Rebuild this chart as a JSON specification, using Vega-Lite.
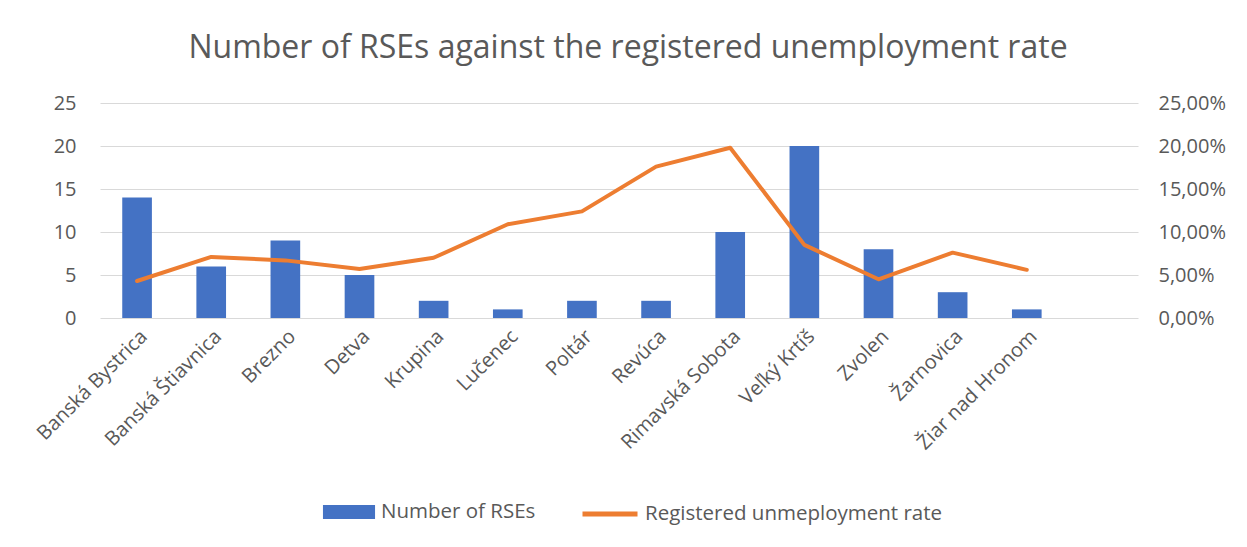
{
  "$schema": "https://vega.github.io/schema/vega-lite/v6.json",
  "width": 1038,
  "height": 215,
  "autosize": {"type": "none"},
  "padding": {"left": 100, "top": 103, "right": 109, "bottom": 229},
  "background": "white",
  "title": {
    "text": "Number of RSEs against the registered unemployment rate",
    "font": "Open Sans",
    "fontSize": 32,
    "fontWeight": "normal",
    "color": "#595959",
    "baseline": "alphabetic",
    "offset": 3,
    "dx": 9
  },
  "config": {
    "locale": {"number": {"decimal": ",", "thousands": " ", "grouping": [3], "currency": ["", " €"]}},
    "view": {"stroke": null},
    "axis": {
      "labelFont": "Open Sans",
      "labelFontSize": 20,
      "labelColor": "#595959",
      "gridColor": "#d9d9d9",
      "gridWidth": 1,
      "domain": false,
      "ticks": false,
      "title": null
    },
    "legend": {
      "labelFont": "Open Sans",
      "labelFontSize": 20.5,
      "labelColor": "#595959",
      "labelLimit": 500
    }
  },
  "data": {
    "values": [
      {"region": "Banská Bystrica", "rses": 14, "rate": 0.043},
      {"region": "Banská Štiavnica", "rses": 6, "rate": 0.071},
      {"region": "Brezno", "rses": 9, "rate": 0.067},
      {"region": "Detva", "rses": 5, "rate": 0.057},
      {"region": "Krupina", "rses": 2, "rate": 0.07},
      {"region": "Lučenec", "rses": 1, "rate": 0.109},
      {"region": "Poltár", "rses": 2, "rate": 0.124},
      {"region": "Revúca", "rses": 2, "rate": 0.176},
      {"region": "Rimavská Sobota", "rses": 10, "rate": 0.198},
      {"region": "Veľký Krtíš", "rses": 20, "rate": 0.085},
      {"region": "Zvolen", "rses": 8, "rate": 0.045},
      {"region": "Žarnovica", "rses": 3, "rate": 0.076},
      {"region": "Žiar nad Hronom", "rses": 1, "rate": 0.056}
    ]
  },
  "encoding": {
    "x": {
      "field": "region",
      "type": "nominal",
      "sort": null,
      "scale": {
        "domain": ["Banská Bystrica", "Banská Štiavnica", "Brezno", "Detva", "Krupina", "Lučenec", "Poltár", "Revúca", "Rimavská Sobota", "Veľký Krtíš", "Zvolen", "Žarnovica", "Žiar nad Hronom", " "],
        "paddingInner": 0.6,
        "paddingOuter": 0.3
      },
      "axis": {"labelAngle": -45, "labelPadding": 8, "grid": false}
    }
  },
  "layer": [
    {
      "mark": {"type": "bar"},
      "encoding": {
        "y": {
          "field": "rses",
          "type": "quantitative",
          "scale": {"domain": [0, 25]},
          "axis": {"values": [0, 5, 10, 15, 20, 25], "labelPadding": 24, "grid": true}
        },
        "fill": {
          "datum": "Number of RSEs",
          "type": "nominal",
          "scale": {"range": ["#4472C4"]},
          "legend": {
            "title": null,
            "orient": "none",
            "legendX": 235,
            "legendY": 395,
            "symbolType": "M-1.86,-0.5H1.86V0.5H-1.86Z",
            "symbolSize": 784,
            "symbolStrokeWidth": 0,
            "labelOffset": 18
          }
        }
      }
    },
    {
      "mark": {"type": "line", "strokeWidth": 4, "strokeCap": "round", "strokeJoin": "round"},
      "encoding": {
        "y": {
          "field": "rate",
          "type": "quantitative",
          "scale": {"domain": [0, 0.25]},
          "axis": {"orient": "right", "format": ".2%", "values": [0, 0.05, 0.1, 0.15, 0.2, 0.25], "labelPadding": 20, "grid": false}
        },
        "stroke": {
          "datum": "Registered unmeployment rate",
          "type": "nominal",
          "scale": {"range": ["#ED7D31"]},
          "legend": {
            "title": null,
            "orient": "none",
            "legendX": 480,
            "legendY": 381,
            "symbolType": "stroke",
            "symbolSize": 3025,
            "symbolStrokeWidth": 5,
            "labelOffset": 5
          }
        }
      }
    }
  ],
  "resolve": {"scale": {"y": "independent"}}
}
